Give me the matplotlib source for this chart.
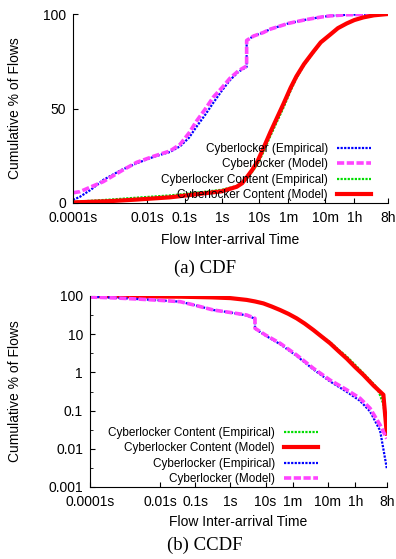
import numpy as np
import matplotlib
matplotlib.use("Agg")
import matplotlib.pyplot as plt
from matplotlib.ticker import FixedLocator, NullFormatter

plt.rcParams["font.family"] = ["Liberation Sans", "DejaVu Sans"]

# x ticks (seconds) and their labels
tick_secs   = [1e-4, 1e-2, 1e-1, 1, 10, 60, 600, 3600, 28800]
tick_labels = ["0.0001s", "0.01s", "0.1s", "1s", "10s", "1m", "10m", "1h", "8h"]

# ---- (a) CDF, values ----
cl_emp_t   = [1e-4, 1.54e-4, 3e-4, 6.5e-4, 2e-3, 5.1e-3, 0.015, 0.04, 0.075, 0.13, 0.21, 0.35, 0.585,
              1.0, 1.64, 2.8, 4.6, 4.61, 7, 12.9, 20, 36, 60, 102, 180, 284, 500, 796, 2240, 28800]
cl_emp_cdf = [1.6, 3.3, 7, 12.2, 17.5, 21, 24.5, 27, 30, 34.5, 40.5, 46.5, 53,
              59.5, 65, 69.5, 72, 86, 88.3, 90.2, 92, 93.6, 95, 96, 97, 97.7, 98.5, 99, 99.6, 100]
cl_mod_t   = [1e-4, 1.54e-4, 3e-4, 6.5e-4, 2e-3, 5.1e-3, 0.015, 0.04, 0.075, 0.13, 0.21, 0.35, 0.585,
              1.0, 1.64, 2.8, 4.6, 4.61, 7, 12.9, 20, 36, 60, 102, 180, 284, 500, 796, 2240, 28800]
cl_mod_cdf = [5.4, 6, 8.5, 11.3, 17, 21.5, 24.8, 27.5, 31, 37, 43.5, 49.5, 56,
              61, 66, 70, 72.5, 86, 88.3, 90.2, 92, 93.6, 95, 96, 97, 97.7, 98.5, 99, 99.6, 100]
ct_emp_t   = [1e-4, 1e-3, 5e-3, 0.04, 0.3, 1.0, 2.5, 3.5, 4.6, 6.5, 9, 13, 20, 30, 45, 70, 100,
              160, 284, 450, 796, 1300, 2240, 3600, 6250, 12000, 28800]
ct_emp_cdf = [0.6, 1.8, 2.8, 4.0, 5.8, 7.0, 9.0, 10.5, 13, 16.5, 20.5, 27, 35.5, 43, 50.5, 59.5, 66,
              73, 79.5, 84.8, 89, 92.5, 95, 96.8, 98.2, 99.3, 100]
ct_mod_t   = [1e-4, 1e-3, 5e-3, 0.04, 0.3, 1.0, 2.5, 3.5, 4.6, 6.5, 9, 13, 20, 30, 45, 70, 100,
              160, 284, 450, 796, 1300, 2240, 3600, 6250, 12000, 28800]
ct_mod_cdf = [0.3, 1.0, 1.8, 3.0, 5.0, 6.2, 8.6, 10.5, 13.5, 17.5, 22, 29, 37.5, 45, 52.5, 61, 67,
              73.5, 80, 85, 89, 92.5, 95, 96.8, 98.2, 99.3, 100]

# ---- (b) CCDF ----
cl_emp_ct   = [1e-4, 5e-4, 2.1e-3, 0.01, 0.037, 0.1, 0.326, 1, 2.9, 5.0, 5.01, 10, 25.9, 77, 230,
               688, 2056, 4920, 9490, 18300, 28400]
cl_emp_ccdf = [96, 90, 83.5, 77, 71, 57, 43, 37, 31, 25.5, 14, 9.2, 5.5, 2.7, 1.2,
               0.58, 0.31, 0.18, 0.095, 0.03, 0.0031]
cl_mod_ct   = [1e-4, 5e-4, 2.1e-3, 0.01, 0.037, 0.1, 0.326, 1, 2.9, 5.0, 5.01, 10, 25.9, 77, 230,
               688, 2056, 4920, 9490, 18300, 28400]
cl_mod_ccdf = [94, 89, 83.5, 77, 71, 57, 43, 37, 31.8, 26, 14.3, 9.5, 5.8, 2.85, 1.28,
               0.63, 0.35, 0.21, 0.115, 0.042, 0.0185]
ct_emp_ct   = [1e-4, 0.037, 0.3, 1, 2.9, 5, 8.7, 15, 25.9, 45, 77, 130, 230, 400, 688, 1200,
               2056, 3500, 6110, 15000, 22700, 28400]
ct_emp_ccdf = [99.5, 96, 92, 88, 79, 72, 64, 53, 43, 34, 26, 19, 13, 8.8, 6.2, 3.9,
               2.6, 1.6, 0.95, 0.4, 0.15, 0.03]
ct_mod_ct   = [1e-4, 0.037, 0.3, 1, 2.9, 5, 8.7, 15, 25.9, 45, 77, 130, 230, 400, 688, 1200,
               2056, 3500, 6110, 12000, 22700, 28400]
ct_mod_ccdf = [99.5, 96, 92, 88, 79, 72, 64, 53, 43, 34, 26, 19, 12.9, 8.6, 5.8, 3.6,
               2.3, 1.4, 0.86, 0.45, 0.26, 0.025]

C_BLUE, C_MAG, C_GREEN, C_RED = "#0000ff", "#ff44ff", "#00dd00", "#ff0000"
sty = {
    "cl_emp": dict(color=C_BLUE, lw=1.6, ls=(0, (1, 0.6))),
    "cl_mod": dict(color=C_MAG, lw=2.6, ls=(0, (2, 0.7))),
    "ct_emp": dict(color=C_GREEN, lw=1.6, ls=(0, (1, 0.6))),
    "ct_mod": dict(color=C_RED, lw=3.0, ls="-"),
}

fig = plt.figure(figsize=(3.96, 5.59), dpi=100)
W, H = 396.0, 559.0
ax1 = fig.add_axes([73 / W, 1 - 203 / H, 315 / W, 189 / H])
ax2 = fig.add_axes([90 / W, 1 - 487 / H, 297 / W, 191 / H])


def style_axes(ax):
    ax.set_xscale("log")
    ax.set_xlim(1e-4, 28800)
    for s in ["top", "right"]:
        ax.spines[s].set_visible(False)
    ax.xaxis.set_major_locator(FixedLocator(tick_secs))
    ax.xaxis.set_minor_locator(FixedLocator([]))
    ax.set_xticklabels(tick_labels)
    ax.tick_params(direction="in", length=3.5, width=0.8, labelsize=10, pad=5)
    ax.tick_params(axis="x", pad=6)
    ax.set_xlabel("Flow Inter-arrival Time", fontsize=10, va="center")
    ax.set_ylabel("Cumulative % of Flows", fontsize=10, va="center")


# (a) CDF
style_axes(ax1)
ax1.set_ylim(0, 100)
ax1.set_yticks([0, 50, 100])
ax1.plot(cl_emp_t, cl_emp_cdf, label="Cyberlocker (Empirical)", **sty["cl_emp"])
ax1.plot(cl_mod_t, cl_mod_cdf, label="Cyberlocker (Model)", **sty["cl_mod"])
ax1.plot(ct_emp_t, ct_emp_cdf, label="Cyberlocker Content (Empirical)", **sty["ct_emp"])
ax1.plot(ct_mod_t, ct_mod_cdf, label="Cyberlocker Content (Model)", **sty["ct_mod"])
ax1.xaxis.set_label_coords(0.5, -(240 - 203) / 189)
ax1.yaxis.set_label_coords(-(73 - 15) / 315, 0.5)
ax1.legend(loc="lower right", bbox_to_anchor=(371 / W, 1 - 201 / H),
           bbox_transform=fig.transFigure, frameon=False, markerfirst=False,
           fontsize=8.5, borderpad=0, handlelength=2.9, handletextpad=0.75,
           labelspacing=0.28, borderaxespad=0)
fig.text(205 / W, 1 - 268 / H, "(a) CDF", family="Liberation Serif",
         fontsize=13.5, ha="center", va="center")

# (b) CCDF
style_axes(ax2)
ax2.set_yscale("log")
ax2.set_ylim(0.001, 100)
ax2.set_yticks([0.001, 0.01, 0.1, 1, 10, 100])
ax2.set_yticklabels(["0.001", "0.01", "0.1", "1", "10", "100"])
ax2.yaxis.set_minor_locator(FixedLocator([10 ** (k + 0.5) for k in range(-3, 2)]))
ax2.yaxis.set_minor_formatter(NullFormatter())
ax2.tick_params(axis="y", which="minor", direction="in", length=2, width=0.6)
ax2.plot(ct_emp_ct, ct_emp_ccdf, label="Cyberlocker Content (Empirical)", **sty["ct_emp"])
ax2.plot(ct_mod_ct, ct_mod_ccdf, label="Cyberlocker Content (Model)", **sty["ct_mod"])
ax2.plot(cl_emp_ct, cl_emp_ccdf, label="Cyberlocker (Empirical)", **sty["cl_emp"])
ax2.plot(cl_mod_ct, cl_mod_ccdf, label="Cyberlocker (Model)", **sty["cl_mod"])
ax2.xaxis.set_label_coords(0.5, -(522 - 487) / 191)
ax2.yaxis.set_label_coords(-(90 - 15) / 297, 0.5)
ax2.legend(loc="lower right", bbox_to_anchor=(318 / W, 1 - 485 / H),
           bbox_transform=fig.transFigure, frameon=False, markerfirst=False,
           fontsize=8.5, borderpad=0, handlelength=2.9, handletextpad=0.75,
           labelspacing=0.28, borderaxespad=0)
fig.text(205 / W, 1 - 545 / H, "(b) CCDF", family="Liberation Serif",
         fontsize=13.5, ha="center", va="center")

fig.savefig("out.png", dpi=100)
